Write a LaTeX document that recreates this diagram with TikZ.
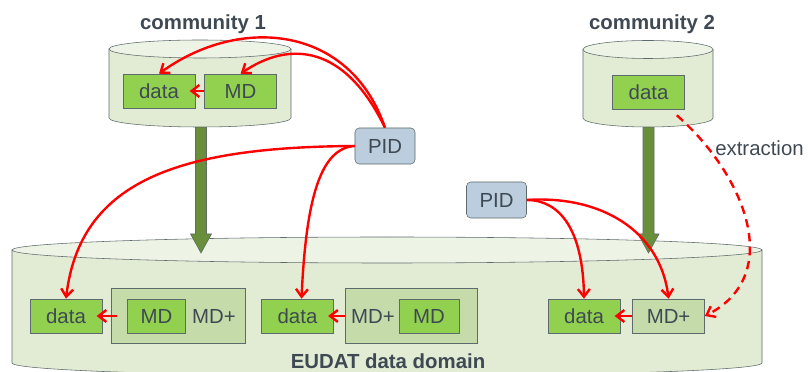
\documentclass[tikz,border=0pt]{standalone}
\usepackage{fontspec}
\setmainfont{Liberation Sans}
\usetikzlibrary{arrows.meta,calc,positioning}
\definecolor{boxgreen}{HTML}{92D050}
\definecolor{grpgreen}{HTML}{C5DBAA}
\definecolor{cylbody}{HTML}{E2ECD5}
\definecolor{cyltop}{HTML}{EDF3E5}
\definecolor{edge}{HTML}{5E6A6C}
\definecolor{pidblue}{HTML}{BCCDDD}
\definecolor{olivegreen}{HTML}{6A8F3A}
\definecolor{textgray}{HTML}{3F4953}

\begin{document}
\begin{tikzpicture}[x=0.025cm,y=0.025cm,>={Straight Barb[length=5.5pt,width=8.5pt]}]
    \tikzstyle{box}=[rectangle,draw=edge,fill=boxgreen,thin,text=textgray,
    font=\fontsize{14.5}{17}\selectfont,inner sep=0pt,minimum width=1.8cm,minimum height=0.85cm]
    \tikzstyle{grp}=[box,fill=grpgreen]
    \tikzstyle{pid}=[box,fill=pidblue,rounded corners=3pt,minimum width=1.5cm,minimum height=0.9cm]
    \tikzstyle{txt}=[text=textgray,font=\fontsize{14.5}{17}\selectfont,inner sep=0pt]
    \tikzstyle{title}=[txt,font=\fontsize{14.5}{17}\selectfont\bfseries]
    \tikzstyle{cyl}=[draw=edge,fill=cylbody,thin]
    \tikzstyle{cyltop}=[draw=edge,fill=cyltop,thin]
    \tikzstyle{bigarr}=[draw=edge,fill=olivegreen,thin]
    \tikzstyle{link}=[red,line width=1.7pt,->]

    \useasboundingbox (0,0) rectangle (808,-372);

    % EUDAT data domain
    \draw[cyl] (12,-250) -- (12,-363) arc[start angle=180,end angle=360,x radius=375,y radius=13]
      -- (762,-250) -- cycle;
    \draw[cyltop] (387,-250) ellipse[x radius=375,y radius=13];

    % staging arrows
    \coordinate (c1_bot) at (201,-122);
    \coordinate (c2_bot) at (648.5,-122);
    \draw[bigarr] (c1_bot) ++(-5.5,0) -- ++(0,-112) -- ++(-5,0) -- ++(10.5,-19)
      -- ++(10.5,19) -- ++(-5,0) -- ++(0,112) -- cycle;
    \draw[bigarr] (c2_bot) ++(-5.5,0) -- ++(0,-112) -- ++(-5,0) -- ++(10.5,-19)
      -- ++(10.5,19) -- ++(-5,0) -- ++(0,112) -- cycle;

    % community 1
    \draw[cyl] (109,-49) -- (109,-118) arc[start angle=180,end angle=360,x radius=91,y radius=9]
      -- (291,-49) -- cycle;
    \draw[cyltop] (200,-49) ellipse[x radius=91,y radius=9];
    % community 2
    \draw[cyl] (583,-49.5) -- (583,-118) arc[start angle=180,end angle=360,x radius=65,y radius=9]
      -- (713,-49.5) -- cycle;
    \draw[cyltop] (648,-49.5) ellipse[x radius=65,y radius=9];

    \node[title](com1) at (203,-24){community 1};
    \node[title](com2) at (652,-24){community 2};
    \node[title](eudat) at (388,-361){EUDAT data domain};

    \node[box](data_c1) at (159,-91){data};
    \node[box](md_c1)[right=0.225cm of data_c1]{MD};
    \node[box](data_c2) at (648.5,-92){data};

    \node[pid](pid1) at (385,-146){PID};
    \node[pid](pid2) at (496.5,-200){PID};

    \node[box](data_a) at (66,-316){data};
    \node[grp,minimum width=3.35cm,minimum height=1.375cm](mdp_a)[right=0.225cm of data_a]{};
    \node[box,minimum width=1.45cm](md_a)[right=0.4cm of mdp_a.west]{MD};
    \node[txt](mdp_a_txt)[right=0.15cm of md_a]{MD+};

    \node[box](data_b) at (297.5,-316){data};
    \node[grp,minimum width=3.3cm,minimum height=1.375cm](mdp_b)[right=0.275cm of data_b]{};
    \node[box,minimum width=1.5cm](md_b)[left=0.45cm of mdp_b.east]{MD};
    \node[txt](mdp_b_txt)[right=0.15cm of mdp_b.west]{MD+};

    \node[box](data_c) at (584,-316){data};
    \node[grp](mdp_c)[right=0.3cm of data_c]{MD+};

    \draw[link,shorten >=-4pt] (md_c1.west) -- (data_c1.east);
    \draw[link,shorten >=-4pt,shorten <=-4pt] (mdp_a.west) -- (data_a.east);
    \draw[link,shorten >=-4pt] (mdp_b.west) -- (data_b.east);
    \draw[link,shorten >=-4pt] (mdp_c.west) -- (data_c.east);

    \draw[link] (pid1.north) .. controls (350,-25) and (240,-15) .. (data_c1.north);
    \draw[link] (pid1.north) .. controls (345,-45) and (290,-40) .. (md_c1.north);
    \draw[link] (pid1.west) .. controls (180,-147) and (80,-180) .. (data_a.north);
    \draw[link] (pid1.west) .. controls (320,-148) and (306,-200) .. ($(data_b.north)+(4,0)$);
    \draw[link] (pid2.east) .. controls (560,-200) and (583,-230) .. (data_c.north);
    \draw[link] (pid2.east) .. controls (600,-195) and (660,-230) .. (mdp_c.north);

    \draw[link,dash pattern=on 6pt off 4pt] ($(data_c2.south east)+(-8,-6)$)
      .. controls (745,-175) and (785,-275) .. (mdp_c.east);
    \node[txt,anchor=west](extr) at (715,-148){extraction};
\end{tikzpicture}
\end{document}
